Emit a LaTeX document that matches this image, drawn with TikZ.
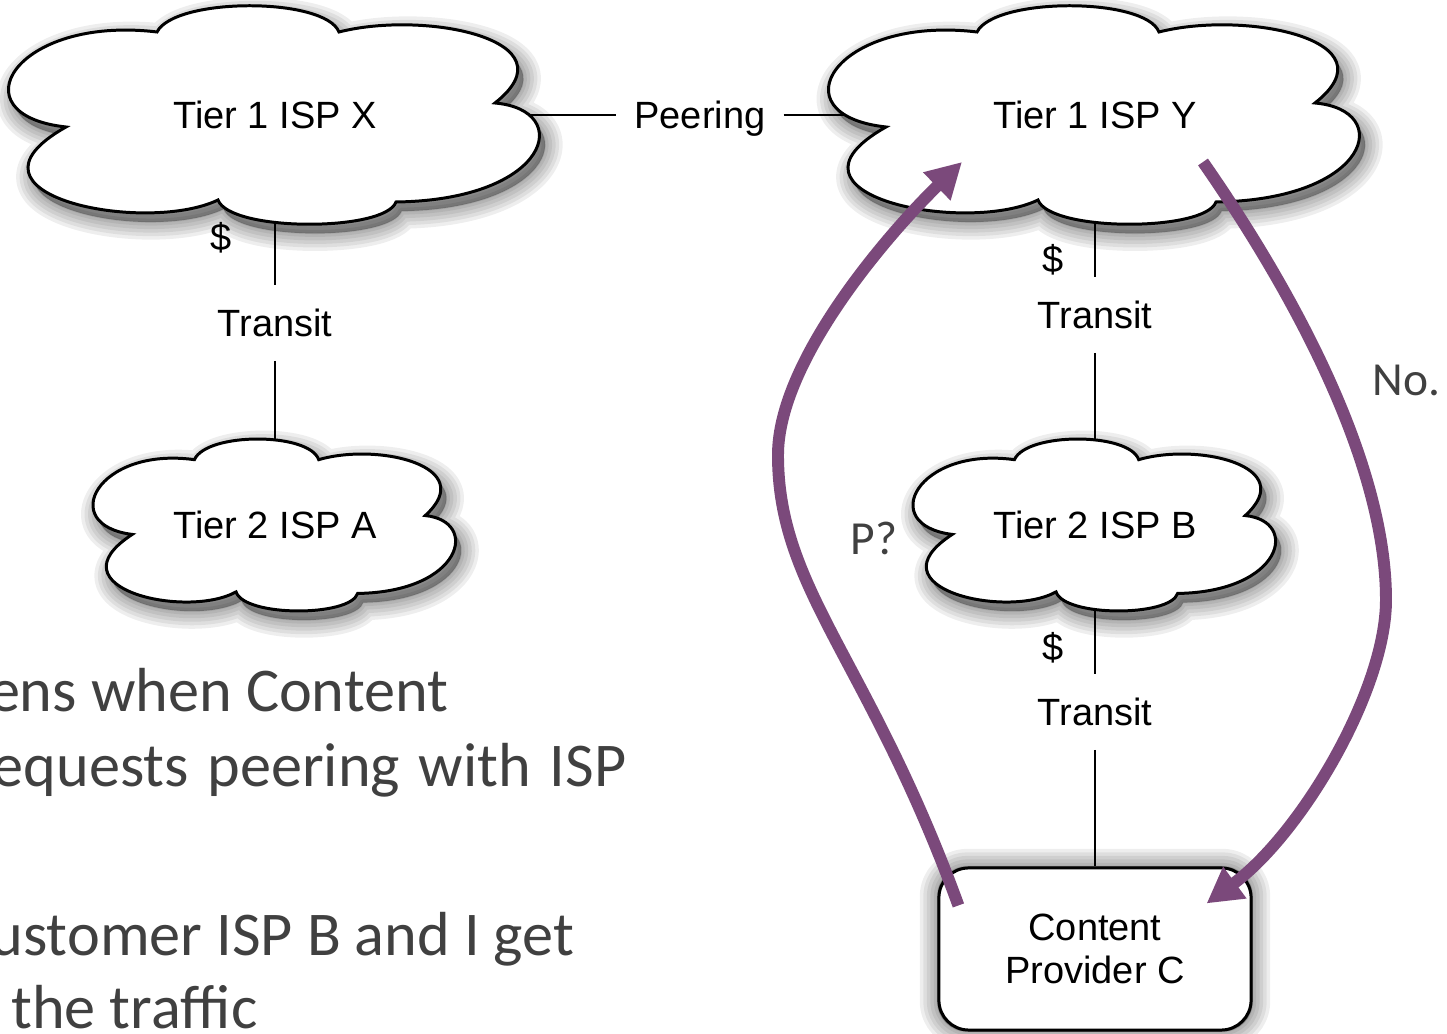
\documentclass[tikz,border=0pt]{standalone}
\usepackage{fontspec}
\setmainfont{Liberation Sans}
\newfontfamily\slidefont{Carlito}
\usetikzlibrary{arrows.meta,calc}

\pgfdeclarelayer{links}
\pgfdeclarelayer{shapes}
\pgfsetlayers{links,shapes,main}

\definecolor{flowpurple}{RGB}{123,73,123}
\definecolor{slidegray}{RGB}{64,64,64}

\tikzset{
  shadowpass/.style={fill=black, draw=black, opacity=0.065, line join=round,
      line width=#1, xshift=1.6pt, yshift=-2.6pt},
  cloudshape/.style={draw=black, line width=0.85pt, fill=white},
  isplabel/.style={font=\fontsize{10.8}{12.3}\selectfont,
      text height=7.7pt, text depth=0pt, inner sep=0pt},
  linklabel/.style={isplabel, inner xsep=5pt, inner ysep=6.7pt},
  link/.style={line width=0.6pt},
  providerbox/.style={draw=black, line width=0.85pt, fill=white,
      rounded corners=8.5pt, minimum width=3.12cm, minimum height=1.62cm,
      align=center, font=\fontsize{10.8}{12.3}\selectfont},
  flow/.style={draw=flowpurple, line width=3.4pt,
      -{Triangle[length=10pt,width=10.5pt]}},
  slidetext/.style={font=\slidefont\fontsize{17.7}{21}\selectfont,
      text=slidegray, inner sep=0pt, anchor=base east},
  note/.style={font=\slidefont\fontsize{13.5}{16}\selectfont,
      text=slidegray, inner sep=0pt, anchor=base west},
}

% outline of a cloud, centred on the origin
\newcommand\cloudpath{(-209,12) .. controls (-320,0) and (-260,-100) .. (-118,-83)
    .. controls (-100,-118) and (50,-118) .. (64,-83)
    .. controls (150,-105) and (300,-75) .. (220,-12)
    .. controls (300,-5) and (275,85) .. (121,87)
    .. controls (110,117) and (-45,117) .. (-57,85)
    .. controls (-130,120) and (-330,80) .. (-209,12) -- cycle}

% cloud with soft shadow around a named centre, horizontal and vertical scale
\newcommand\cloudoutline[3]{%
  \foreach \w in {10pt,8pt,6pt,4pt,2pt,0.5pt}{%
    \path[shift={(#1)}, shadowpass=\w, xscale=#2, yscale=#3] \cloudpath;}
  \path[cloudshape, shift={(#1)}, xscale=#2, yscale=#3] \cloudpath;}

\begin{document}
\begin{tikzpicture}[x=0.01cm, y=-0.01cm]
\useasboundingbox (0,0) rectangle (1447,1034);

% network names
\node[isplabel] (X) at (275,115) {Tier 1 ISP X};
\node[isplabel] (Y) at (1095,115) {Tier 1 ISP Y};
\node[isplabel] (A) at (275,525) {Tier 2 ISP A};
\node[isplabel] (B) at (1095,525) {Tier 2 ISP B};
\node[providerbox] (C) at (1095,949) {Content\\Provider C};

% relationship labels
\node[linklabel] (pe) at (700,115) {Peering};
\node[linklabel] (t1) at (275,323) {Transit};
\node[linklabel] (t2) at (1095,315) {Transit};
\node[linklabel] (t3) at (1095,712) {Transit};
\node[isplabel] (d1) at (221,237) {\$};
\node[isplabel] (d2) at (1053,259) {\$};
\node[isplabel] (d3) at (1053,647) {\$};

% links between networks
\begin{pgfonlayer}{links}
  \draw[link] (X) -- (pe);
  \draw[link] (pe) -- (Y);
  \draw[link] (X) -- (t1);
  \draw[link] (t1) -- (A);
  \draw[link] (Y) -- (t2);
  \draw[link] (t2) -- (B);
  \draw[link] (B) -- (t3);
  \draw[link] (t3) -- (C);
\end{pgfonlayer}

% clouds and the shadow of the provider box
\begin{pgfonlayer}{shapes}
  \cloudoutline{X}{1}{1}
  \cloudoutline{Y}{1}{1}
  \cloudoutline{A}{0.683}{0.787}
  \cloudoutline{B}{0.683}{0.787}
  \foreach \w in {10pt,8pt,6pt,4pt,2pt,0.5pt}{%
    \path[shadowpass=\w, rounded corners=8.5pt]
      (C.south west) rectangle (C.north east);}
\end{pgfonlayer}

% peering request and answer
\coordinate (askfrom) at ($(C.north west)+(21,39)$);
\coordinate (askbend) at (778,455);
\coordinate (askto) at ($(Y)+(-133,47)$);
\coordinate (refusefrom) at ($(Y)+(108,47)$);
\coordinate (refusebend) at (1386,600);
\coordinate (refuseto) at ($(C.north east)+(-46,37)$);

\draw[flow] (askfrom) .. controls +(-90,-247) and +(0,135) .. (askbend)
  .. controls +(0,-95) and +(-72,70) .. (askto);
\draw[flow] (refusefrom) .. controls +(87,125) and +(0,-140) .. (refusebend)
  .. controls +(0,90) and +(95,-70) .. (refuseto);

\node[note] (ask) at (850,555) {P?};
\node[note] (refuse) at (1372,396) {No.};

% slide text
\node[slidetext] (s1) at (449,712) {ens when Content};
\node[slidetext] (s2) at (627,787) {\spaceskip=5.3pt\relax equests peering with ISP};
\node[slidetext] (s3) at (575,956) {ustomer ISP B and I get};
\node[slidetext] (s4) at (258,1029) {the traffic};
\end{tikzpicture}
\end{document}
